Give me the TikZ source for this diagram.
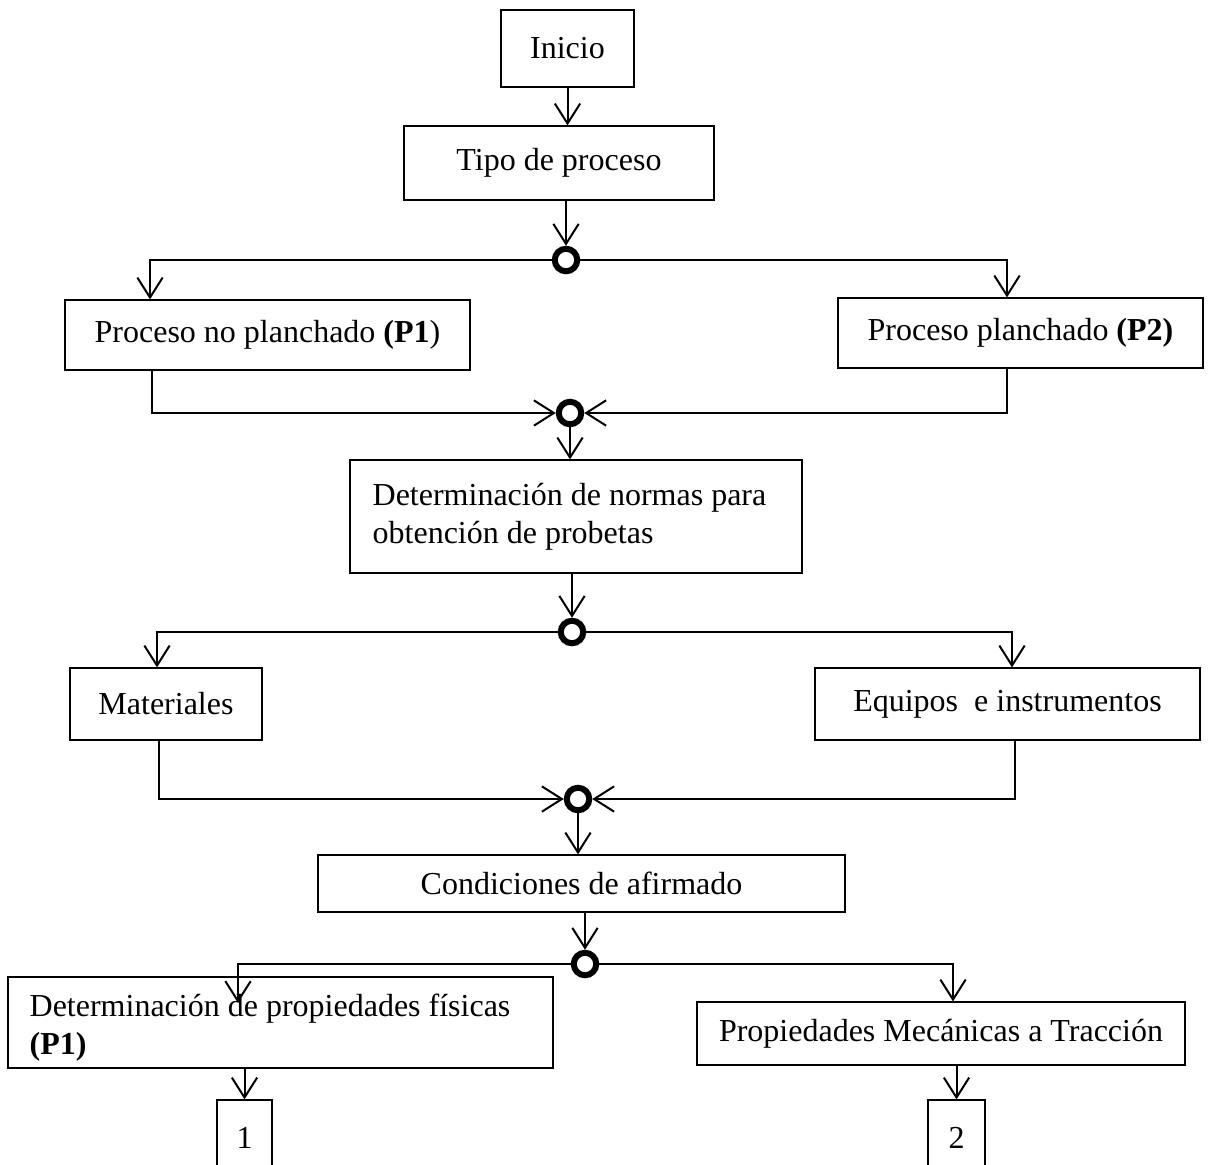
\documentclass[tikz,border=0pt]{standalone}
\usepackage{fontspec}
\setmainfont{Liberation Serif}
\usetikzlibrary{arrows.meta}
\begin{document}
\begin{tikzpicture}[x=0.75pt,y=-0.75pt,
  font=\fontsize{24pt}{28.5pt}\selectfont,
  box/.style 2 args={draw,line width=0.9pt,inner sep=0pt,
    minimum width=#1*0.75pt,minimum height=#2*0.75pt},
  lefttext/.style={anchor=west,align=left,inner sep=0pt},
  junc/.style={circle,draw,line width=4.5pt,minimum size=22.5*0.75pt,inner sep=0pt},
  link/.style={line width=1.5pt},
  >={Straight Barb[length=15pt,width=19pt]},
]
\useasboundingbox (0,0) rectangle (1227,1164);

% boxes
\node[box={133}{77}] (inicio) at (567.5,48.5) {Inicio};
\node[box={310}{74}] (tipo) at (559,163) {Tipo de proceso};
\node[box={405}{70}] (p1) at (267.5,335) {Proceso no planchado \textbf{(P1})};
\node[box={365}{70}] (p2) at (1020.5,333) {Proceso planchado \textbf{(P2)}};
\node[box={452}{113}] (normas) at (576,516.5) {};
\node[lefttext] (normastxt) at ([xshift=23*0.75pt]normas.west)
  {Determinación de normas para\\obtención de probetas};
\node[box={192}{72}] (mat) at (166,704) {Materiales};
\node[box={385}{72}] (equipos) at (1007.5,704) {Equipos\ \ e instrumentos};
\node[box={527}{57}] (cond) at (581.5,883.5) {Condiciones de afirmado};
\node[box={545}{91}] (fis) at (280.5,1022.5) {};
\node[lefttext] (fistxt) at ([xshift=22*0.75pt,yshift=-5*0.75pt]fis.west)
  {Determinación de propiedades físicas\\\textbf{(P1)}};
\node[box={488}{63}] (mec) at (941,1033.5) {Propiedades Mecánicas a Tracción};
\node[box={55}{75}] (one) at (244.5,1137.5) {1};
\node[box={57}{75}] (two) at (956.5,1137.5) {2};

% junctions
\node[junc] (j1) at (566,260) {};
\node[junc] (j2) at (570,413) {};
\node[junc] (j3) at (572,632) {};
\node[junc] (j4) at (578,799) {};
\node[junc] (j5) at (585,964) {};

% branch columns
\coordinate (a1) at (150,0);
\coordinate (a2) at (1007,0);
\coordinate (b1) at (152,0);
\coordinate (b2) at (1007,0);
\coordinate (c1) at (157,0);
\coordinate (c2) at (1012,0);
\coordinate (d1) at (159,0);
\coordinate (d2) at (1015,0);
\coordinate (e1) at (238,1003);
\coordinate (e2) at (953,0);

% connectors
\draw[link,->] (inicio.south) -- (inicio.south |- tipo.north);
\draw[link,->] (tipo.south -| j1) -- (j1.north);
\draw[link,->] (j1.west) -| (p1.north -| a1);
\draw[link,->] (j1.east) -| (p2.north -| a2);
\draw[link,->] (p1.south -| b1) |- (j2.west);
\draw[link,->] (p2.south -| b2) |- (j2.east);
\draw[link,->] (j2.south) -- (j2.south |- normas.north);
\draw[link,->] (normas.south -| j3) -- (j3.north);
\draw[link,->] (j3.west) -| (mat.north -| c1);
\draw[link,->] (j3.east) -| (equipos.north -| c2);
\draw[link,->] (mat.south -| d1) |- (j4.west);
\draw[link,->] (equipos.south -| d2) |- (j4.east);
\draw[link,->] (j4.south) -- (j4.south |- cond.north);
\draw[link,->] (cond.south -| j5) -- (j5.north);
\draw[link,->] (j5.west) -| (e1);
\draw[link,->] (j5.east) -| (mec.north -| e2);
\draw[link,->] (fis.south -| one) -- (one.north);
\draw[link,->] (mec.south -| two) -- (two.north);
\end{tikzpicture}
\end{document}
